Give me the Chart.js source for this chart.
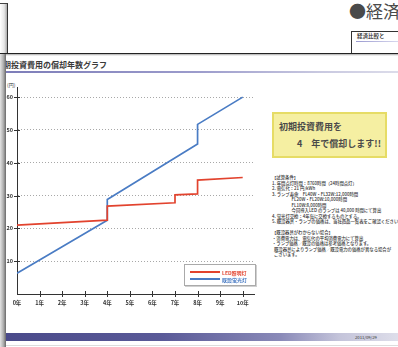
<!DOCTYPE html>
<html>
<head>
<meta charset="utf-8">
<script src="https://cdn.jsdelivr.net/npm/chart.js@4/dist/chart.umd.min.js"></script>
<style>
  html, body { margin:0; padding:0; }
  body { width:398px; height:347px; position:relative; overflow:hidden; background:#fff;
         font-family:'Noto Sans CJK JP', sans-serif; color:#333; }
  .abs { position:absolute; white-space:nowrap; line-height:1; }
  #topLeftBox { left:0; top:3px; width:7px; height:50px; border-top:1px solid #444; border-right:1px solid #333;
                background:linear-gradient(to right,#fff,#e6e6e6 60%,#aaa); }
  #bigTitle { left:349px; top:2px; font-size:17px; color:#4a4a4a; }
  #tabBox { left:351px; top:31px; width:60px; height:22px; border:1px solid #333; background:#fff; }
  #tabText { left:357px; top:34px; font-size:5.5px; font-weight:bold; color:#444; }
  #tabLine { left:356px; top:41px; width:42px; height:1px; background:linear-gradient(to right,#9a9ad0,#d8d8ee); }
  #mainLine { left:0; top:53px; width:398px; height:1px; background:#222; }
  #mainShadow { left:0; top:54px; width:398px; height:2px; background:linear-gradient(#aaa,#fff); }
  #leftStrip { left:0; top:54px; width:6px; height:293px; background:linear-gradient(to right,#e4e4e4,#b0b0b0 55%,#6a6a6a); z-index:5; }
  #pageTitle { left:-5px; top:61px; font-size:8px; font-weight:bold; color:#3a3a3a; }
  #titleLine { left:0; top:71px; width:398px; height:2px; background:linear-gradient(to right,#7c7cb8,#9c9ccc 50%,#c8c8e0 80%,#dcdcea); }
  #unit { left:7px; top:82px; font-size:5px; color:#333; }
  #chartWrap { position:absolute; left:0; top:80px; width:270px; height:235px; }
  #legendBox { left:184px; top:264px; width:70px; height:20px; border:1px solid #aaa; background:#fff; box-shadow:1px 1px 0 #d0d0d0; }
  .lgLine { position:absolute; height:2px; width:30px; }
  .lgText { position:absolute; font-size:5px; line-height:1; white-space:nowrap; font-weight:bold; }
  #yellowBox { left:272px; top:112px; width:111px; height:42px; background:#f5efa2; border:2px solid #e6dc66; }
  .yb { position:absolute; font-size:9px; font-weight:bold; color:#4a4a4a; white-space:nowrap; line-height:1; }
  #notes { left:272px; top:175px; font-size:4.35px; line-height:5.5px; color:#333; font-weight:500; }
  #bottomBar { left:6px; top:333px; width:392px; height:8px;
               background:linear-gradient(to right,#4a4a8a,#5a5a98 40%,#8a8ab8 70%,#c4c4da 85%,#dedeea); }
  #dateText { left:355px; top:335px; font-size:4.2px; color:#333; }
  #bottomLine { left:6px; top:345px; width:392px; height:1px; background:#ddd; }
</style>
</head>
<body>
<div class="abs" id="topLeftBox"></div>
<div class="abs" id="bigTitle">●経済</div>
<div class="abs" id="tabBox"></div>
<div class="abs" id="tabText">経済比較と</div>
<div class="abs" id="tabLine"></div>
<div class="abs" id="mainLine"></div>
<div class="abs" id="mainShadow"></div>
<div class="abs" id="leftStrip"></div>
<div class="abs" id="pageTitle">初期投資費用の償却年数グラフ</div>
<div class="abs" id="titleLine"></div>
<div class="abs" id="unit">(円)</div>

<div id="chartWrap"><canvas id="c" width="270" height="235"></canvas></div>

<div class="abs" id="legendBox">
  <div class="lgLine" style="left:5px;top:6px;background:#e2432e;"></div>
  <div class="lgText" style="left:37px;top:4.5px;color:#e2432e;">LED照明灯</div>
  <div class="lgLine" style="left:5px;top:13px;background:#4a7cc4;"></div>
  <div class="lgText" style="left:37px;top:11.5px;color:#4a7cc4;">既設蛍光灯</div>
</div>

<div class="abs" id="yellowBox">
  <div class="yb" style="left:5px;top:8px;">初期投資費用を</div>
  <div class="yb" style="left:23px;top:25px;">4　年で償却します!!</div>
</div>

<div class="abs" id="notes">【試算条件】<br>
1. 年間点灯時間：8760時間（24時間点灯）<br>
2. 電気代：21 円/kWh<br>
3. ランプ寿命　FL40W・FL32W:12,000時間<br>
&nbsp;&nbsp;&nbsp;&nbsp;&nbsp;&nbsp;&nbsp;&nbsp;&nbsp;&nbsp;&nbsp;&nbsp;&nbsp;&nbsp;&nbsp;&nbsp;&nbsp;&nbsp;&nbsp;&nbsp;FL20W・FL20W:10,000時間<br>
&nbsp;&nbsp;&nbsp;&nbsp;&nbsp;&nbsp;&nbsp;&nbsp;&nbsp;&nbsp;&nbsp;&nbsp;&nbsp;&nbsp;&nbsp;&nbsp;&nbsp;&nbsp;&nbsp;&nbsp;FL10W:8,000時間<br>
&nbsp;&nbsp;&nbsp;&nbsp;&nbsp;&nbsp;&nbsp;&nbsp;&nbsp;&nbsp;&nbsp;&nbsp;&nbsp;&nbsp;&nbsp;&nbsp;&nbsp;&nbsp;&nbsp;&nbsp;今回導入LED のランプは 40,000 時間にて算出<br>
4. 蛍光灯交換：4年毎に交換するものとする。<br>
5. 既設器具・ランプの価格は、当社商品一覧表をご確認ください。<br>
<br>
【既設器具がわからない場合】<br>
・消費電力は、電気代の平均消費電力にて算出<br>
・ランプ価格／既設の価格は参考価格となります。<br>
&nbsp;&nbsp;既設器具によりランプ価格／既設電力の価格が異なる場合が<br>
&nbsp;&nbsp;ございます。</div>

<div class="abs" id="bottomBar"></div>
<div class="abs" id="dateText">2011/09/29</div>
<div class="abs" id="bottomLine"></div>

<script>
// ---- data ----
const xTickValues = [0, 1, 2, 3, 4, 5, 6, 7, 8, 9, 10];
const xTickLabels = ['0年', '1年', '2年', '3年', '4年', '5年', '6年', '7年', '8年', '9年', '10年'];
const yTickValues = [10, 20, 30, 40, 50, 60];
const yTickLabels = ['10', '20', '30', '40', '50', '60'];

const ledYears  = [0, 4, 4, 7, 7, 8, 8, 10];
const ledValues = [21.0, 22.5, 26.8, 27.8, 30.2, 30.5, 34.7, 35.5];

const existingYears  = [0, 4, 4, 8, 8, 10];
const existingValues = [6.3, 22.5, 28.8, 45.7, 51.7, 60.0];

const seriesNames = ['LED照明灯', '既設蛍光灯'];

// ---- chart ----
Chart.defaults.font.family = "'Noto Sans CJK JP', sans-serif";
Chart.defaults.color = '#333';

const toPts = (xs, ys) => xs.map((x, i) => ({ x: x, y: ys[i] }));

const crossTicks = {
  id: 'crossTicks',
  afterDraw(chart) {
    const ctx = chart.ctx, xs = chart.scales.x, ys = chart.scales.y;
    ctx.save();
    ctx.strokeStyle = '#333';
    ctx.lineWidth = 1;
    ctx.setLineDash([]);
    ctx.beginPath();
    xTickValues.forEach(v => {
      if (v === 0) return;
      const px = Math.round(xs.getPixelForValue(v)) + 0.5;
      ctx.moveTo(px, ys.bottom - 3); ctx.lineTo(px, ys.bottom + 3);
    });
    yTickValues.forEach(v => {
      const py = Math.round(ys.getPixelForValue(v)) + 0.5;
      ctx.moveTo(xs.left - 3, py); ctx.lineTo(xs.left + 3, py);
    });
    ctx.stroke();
    ctx.restore();
  }
};

new Chart(document.getElementById('c'), {
  type: 'line',
  data: {
    datasets: [
      { label: seriesNames[0], data: toPts(ledYears, ledValues), borderColor: '#e2432e',
        borderWidth: 1.7, pointRadius: 0, tension: 0, fill: false },
      { label: seriesNames[1], data: toPts(existingYears, existingValues), borderColor: '#4a7cc4',
        borderWidth: 1.7, pointRadius: 0, tension: 0, fill: false }
    ]
  },
  options: {
    responsive: false,
    animation: false,
    devicePixelRatio: 1,
    layout: { padding: { top: 6, right: 16, left: 0, bottom: 0 } },
    plugins: { legend: { display: false }, tooltip: { enabled: false } },
    scales: {
      x: {
        type: 'linear', min: 0, max: 10.5,
        afterBuildTicks: s => { s.ticks = xTickValues.map(v => ({ value: v })); },
        afterFit: s => { s.height = 21; },
        grid: { drawOnChartArea: false, drawTicks: false },
        border: { display: true, color: '#333', width: 1 },
        ticks: { padding: 6, font: { size: 5.5, weight: 'bold' }, color: '#333', maxRotation: 0, autoSkip: false,
                 callback: (v) => { const i = xTickValues.indexOf(v); return i >= 0 ? xTickLabels[i] : ''; } }
      },
      y: {
        type: 'linear', min: 0, max: 63,
        afterBuildTicks: s => { s.ticks = yTickValues.map(v => ({ value: v })); },
        afterFit: s => { s.width = 17; },
        grid: { color: '#a8a8a8', lineWidth: 1, drawTicks: false },
        border: { display: true, color: '#333', width: 1, dash: [1, 2] },
        ticks: { padding: 4, font: { size: 5.5, weight: 'bold' }, color: '#333', autoSkip: false,
                 callback: (v) => { const i = yTickValues.indexOf(v); return i >= 0 ? yTickLabels[i] : ''; } }
      }
    }
  },
  plugins: [crossTicks]
});
</script>
</body>
</html>
